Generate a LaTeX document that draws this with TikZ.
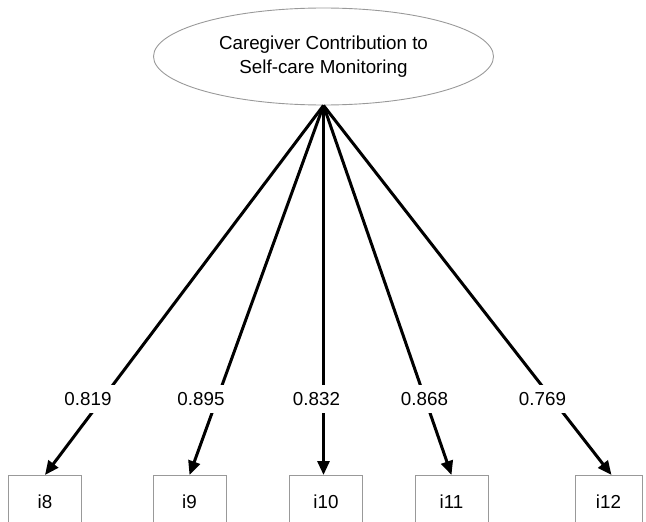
\documentclass[tikz,border=0pt]{standalone}
\usepackage{fontspec}
\setmainfont{Liberation Sans}
\usetikzlibrary{arrows.meta,shapes.geometric}
\tikzset{
  lat_v/.style = {ellipse, draw=gray!80, line width=0.9pt, minimum width=340pt, minimum height=97pt, inner sep=0pt, align=center, font=\fontsize{18.8}{24}\selectfont},
  obs_v/.style = {rectangle, draw=gray!80, line width=0.9pt, minimum width=73pt, minimum height=52pt, anchor=north, font=\fontsize{18.8}{22}\selectfont},
  load_a/.style = {line width=3pt, -{Triangle[length=14pt,width=12pt]}},
  load_l/.style = {fill=white, inner xsep=4pt, inner ysep=7pt, font=\fontsize{18.8}{22}\selectfont},
}

\begin{document}
\begin{tikzpicture}[x=1pt, y=-1pt]
  \useasboundingbox (0,0) rectangle (646,522);
  \clip (0,0) rectangle (646,522);
  \node [lat_v] (cc) at (323.5,56.5) {Caregiver Contribution to\\Self-care Monitoring};
  % items
  \node [obs_v] (i8) at (45,475) {i8};
  \node [obs_v] (i9) at (189.5,475) {i9};
  \node [obs_v] (i10) at (326,475) {i10};
  \node [obs_v] (i11) at (451.5,475) {i11};
  \node [obs_v, minimum width=67pt] (i12) at (608.5,475) {i12};
  % loadings
  \draw [load_a] (cc.south) -- (i8.north);
  \draw [load_a] (cc.south) -- (i9.north);
  \draw [load_a] (cc.south) -- (cc.south |- i10.north);
  \draw [load_a] (cc.south) -- (i11.north);
  \draw [load_a] (cc.south) -- ([xshift=3pt]i12.north);
  \node [load_l] (l8) at (88,399) {0.819};
  \node [load_l] (l9) at (201,399) {0.895};
  \node [load_l] (l10) at (316.5,399) {0.832};
  \node [load_l] (l11) at (424.5,399) {0.868};
  \node [load_l] (l12) at (542.5,399) {0.769};
\end{tikzpicture}
\end{document}
